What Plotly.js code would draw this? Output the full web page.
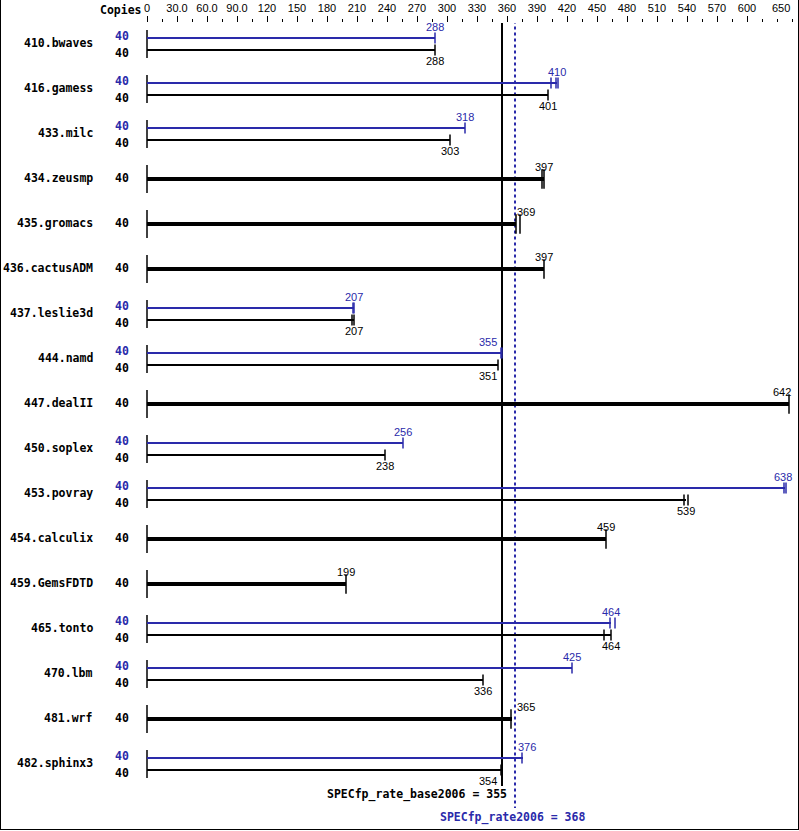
<!DOCTYPE html>
<html>
<head>
<meta charset="utf-8">
<script src="https://cdn.plot.ly/plotly-3.0.1.min.js"></script>
<style>
  html, body { margin: 0; padding: 0; background: #fff; }
  #wrap { position: absolute; left: 0; top: 0; width: 799px; height: 831px; }
  #frame { position: absolute; left: 0; top: 0; width: 797px; height: 829px;
           border-left: 1px solid #000; border-right: 1px solid #000; border-bottom: 1px solid #000;
           pointer-events: none; }
  #chart { position: absolute; left: 0; top: 0; width: 799px; height: 831px; }
</style>
</head>
<body>
<div id="wrap"><div id="chart"></div><div id="frame"></div></div>
<script>
// ---------------- DATA ----------------
const benchmarks = ['410.bwaves','416.gamess','433.milc','434.zeusmp','435.gromacs','436.cactusADM',
  '437.leslie3d','444.namd','447.dealII','450.soplex','453.povray','454.calculix','459.GemsFDTD',
  '465.tonto','470.lbm','481.wrf','482.sphinx3'];
const baseCopies = [40,40,40,40,40,40,40,40,40,40,40,40,40,40,40,40,40];
const peakCopies = [40,40,40,null,null,null,40,40,null,40,40,null,null,40,40,null,40];
const baseValues = [288,401,303,397,369,397,207,351,642,238,539,459,199,464,336,365,354];
const peakValues = [288,410,318,null,null,null,207,355,null,256,638,null,null,464,425,null,376];
// individual run tick marks
const baseTicks = [[288],[401],[303],[395,397],[369,373],[397],[205,207],[351],[642],[238],[537,541],
  [459],[199],[457,464],[336],[364],[354]];
const peakTicks = [[288],[404,409,411],[318],null,null,null,[206,207],[354,355],null,[256],[637,639],
  null,null,[463,468],[425],null,[375]];
const baseScore = 355;
const peakScore = 368;
const tickValues = [0,30,60,90,120,150,180,210,240,270,300,330,360,390,420,450,480,510,540,570,600,650];
const tickLabels = ['0','30.0','60.0','90.0','120','150','180','210','240','270','300','330','360',
  '390','420','450','480','510','540','570','600','650'];
const baseLabel = 'SPECfp_rate_base2006 = ' + baseScore;
const peakLabel = 'SPECfp_rate2006 = ' + peakScore;

// ---------------- STYLE ----------------
const BLUE = '#2a2aaa';
const BLACK = '#000000';
const ROW = 45;              // px per row
const PEAK_OFF = -5 / ROW;   // peak line offset from row center
const BASE_OFF = 7 / ROW;    // base line offset
const SINGLE_OFF = 1 / ROW;  // single line offset
const monoBold = 'DejaVu Sans Mono';
const valFont = 'Liberation Sans';
// horizontal label nudges (px) for labels that sit next to the score lines or the frame
const peakShift = {7: -14, 10: -2, 16: 4};
const baseShift = {7: -10, 16: -13};
const singleShift = {4: 10, 8: -7, 15: 14};

// ---------------- BUILD ----------------
const n = benchmarks.length;
const traces = [];
const annotations = [];

// row left stubs
const stubX = [], stubY = [];
for (let i = 0; i < n; i++) { stubX.push(0, 0, null); stubY.push(i - 13/ROW, i + 15/ROW, null); }
traces.push({type:'scatter', mode:'lines', x: stubX, y: stubY, line:{color:BLACK, width:1.5},
  hoverinfo:'skip', showlegend:false});

function seg(values, ticks, filter, off) {
  const lx = [], ly = [], mx = [], my = [];
  for (let i = 0; i < n; i++) {
    if (!filter(i) || values[i] == null) continue;
    lx.push(0, values[i], null); ly.push(i + off, i + off, null);
    (ticks[i] || [values[i]]).forEach(t => { mx.push(t); my.push(i + off); });
  }
  return {lx, ly, mx, my};
}
const isPair = i => peakValues[i] != null;
const isSingle = i => peakValues[i] == null;

const pk = seg(peakValues, peakTicks, isPair, PEAK_OFF);
const bs = seg(baseValues, baseTicks, isPair, BASE_OFF);
const sg = seg(baseValues, baseTicks, isSingle, SINGLE_OFF);

traces.push({type:'scatter', mode:'lines', x: pk.lx, y: pk.ly, line:{color:BLUE, width:2}, hoverinfo:'skip', showlegend:false});
traces.push({type:'scatter', mode:'markers', x: pk.mx, y: pk.my, cliponaxis:false,
  marker:{symbol:'line-ns', size:8, line:{color:BLUE, width:1.5}}, hoverinfo:'skip', showlegend:false});
traces.push({type:'scatter', mode:'lines', x: bs.lx, y: bs.ly, line:{color:BLACK, width:2}, hoverinfo:'skip', showlegend:false});
traces.push({type:'scatter', mode:'markers', x: bs.mx, y: bs.my, cliponaxis:false,
  marker:{symbol:'line-ns', size:8, line:{color:BLACK, width:1.5}}, hoverinfo:'skip', showlegend:false});
traces.push({type:'scatter', mode:'lines', x: sg.lx, y: sg.ly, line:{color:BLACK, width:4}, hoverinfo:'skip', showlegend:false});
traces.push({type:'scatter', mode:'markers', x: sg.mx, y: sg.my, cliponaxis:false,
  marker:{symbol:'line-ns', size:14, line:{color:BLACK, width:1.5}}, hoverinfo:'skip', showlegend:false});

for (let i = 0; i < n; i++) {
  annotations.push({xref:'paper', yref:'y', x:0, y:i, xanchor:'right', yanchor:'middle', xshift:-51,
    text: benchmarks[i], showarrow:false, font:{family:monoBold, size:11.5, color:BLACK, weight:'bold'}});
  if (isPair(i)) {
    annotations.push({xref:'paper', yref:'y', x:0, y:i, xanchor:'right', yanchor:'middle', xshift:-15, yshift:7,
      text: String(peakCopies[i]), showarrow:false, font:{family:monoBold, size:11.5, color:BLUE, weight:'bold'}});
    annotations.push({xref:'paper', yref:'y', x:0, y:i, xanchor:'right', yanchor:'middle', xshift:-15, yshift:-10,
      text: String(baseCopies[i]), showarrow:false, font:{family:monoBold, size:11.5, color:BLACK, weight:'bold'}});
    annotations.push({xref:'x', yref:'y', x:peakValues[i], y:i + PEAK_OFF, xanchor:'center', yanchor:'middle',
      yshift:11, xshift: peakShift[i] || 0, text:String(peakValues[i]), showarrow:false,
      font:{family:valFont, size:11, color:BLUE}});
    annotations.push({xref:'x', yref:'y', x:baseValues[i], y:i + BASE_OFF, xanchor:'center', yanchor:'middle',
      yshift:-11, xshift: baseShift[i] || 0, text:String(baseValues[i]), showarrow:false,
      font:{family:valFont, size:11, color:BLACK}});
  } else {
    annotations.push({xref:'paper', yref:'y', x:0, y:i, xanchor:'right', yanchor:'middle', xshift:-15,
      text: String(baseCopies[i]), showarrow:false, font:{family:monoBold, size:11.5, color:BLACK, weight:'bold'}});
    annotations.push({xref:'x', yref:'y', x:baseValues[i], y:i + SINGLE_OFF, xanchor:'center', yanchor:'middle',
      yshift:12, xshift: singleShift[i] || 0, text:String(baseValues[i]), showarrow:false,
      font:{family:valFont, size:11, color:BLACK}});
  }
}

annotations.push({xref:'paper', yref:'paper', x:0, y:1, xanchor:'right', yanchor:'middle', xshift:-2, yshift:13,
  text:'Copies', showarrow:false, font:{family:monoBold, size:11.5, color:BLACK, weight:'bold'}});
annotations.push({xref:'x', yref:'paper', x:tickValues[tickValues.length-1], y:1, xanchor:'right', yanchor:'middle',
  xshift:-5, yshift:15, text:tickLabels[tickLabels.length-1], showarrow:false,
  font:{family:valFont, size:11, color:BLACK}});

const baseEndY = n - 1 + 0.51;
const peakEndY = n - 1 + 1.0;
annotations.push({xref:'x', yref:'y', x:baseScore, y:baseEndY, xanchor:'right', yanchor:'middle', xshift:7, yshift:-9,
  text: baseLabel, showarrow:false, font:{family:monoBold, size:11.5, color:BLACK, weight:'bold'}});
annotations.push({xref:'x', yref:'y', x:peakScore, y:peakEndY, xanchor:'center', yanchor:'middle', xshift:-3, yshift:-9,
  text: peakLabel, showarrow:false, font:{family:monoBold, size:11.5, color:BLUE, weight:'bold'}});

const shapes = [
  {type:'line', xref:'x', yref:'y', x0:baseScore, x1:baseScore, y0:-0.5, y1:baseEndY,
   line:{color:BLACK, width:2}, layer:'below'},
  {type:'line', xref:'x', yref:'y', x0:peakScore, x1:peakScore, y0:-0.5, y1:peakEndY,
   line:{color:BLUE, width:2, dash:'3px,3px'}, layer:'below'}
];

const topMargin = 23, totalH = 831;
const plotH = totalH - topMargin;
const yStart = -20 / ROW;
const yEnd = yStart + plotH / ROW;

const layout = {
  width: 799, height: 831,
  margin: {l:146, r:2, t:topMargin, b:0, pad:0},
  paper_bgcolor:'#ffffff', plot_bgcolor:'#ffffff',
  showlegend:false,
  xaxis: {side:'top', range:[-1, 650], showgrid:false, zeroline:false, showline:false,
    tickmode:'array', tickvals: tickValues.slice(0, -1), ticktext: tickLabels.slice(0, -1),
    ticks:'outside', ticklen:6, tickwidth:1, tickcolor:BLACK,
    tickfont:{family:valFont, size:11, color:BLACK},
    minor:{tickmode:'linear', tick0:0, dtick:15, ticks:'outside', ticklen:3, tickwidth:1, tickcolor:BLACK, showgrid:false},
    fixedrange:true},
  yaxis: {range:[yEnd, yStart], showgrid:false, zeroline:false, showline:false, showticklabels:false, ticks:'', fixedrange:true},
  shapes: shapes,
  annotations: annotations
};

Plotly.newPlot('chart', traces, layout, {displayModeBar:false, staticPlot:true});
</script>
</body>
</html>
